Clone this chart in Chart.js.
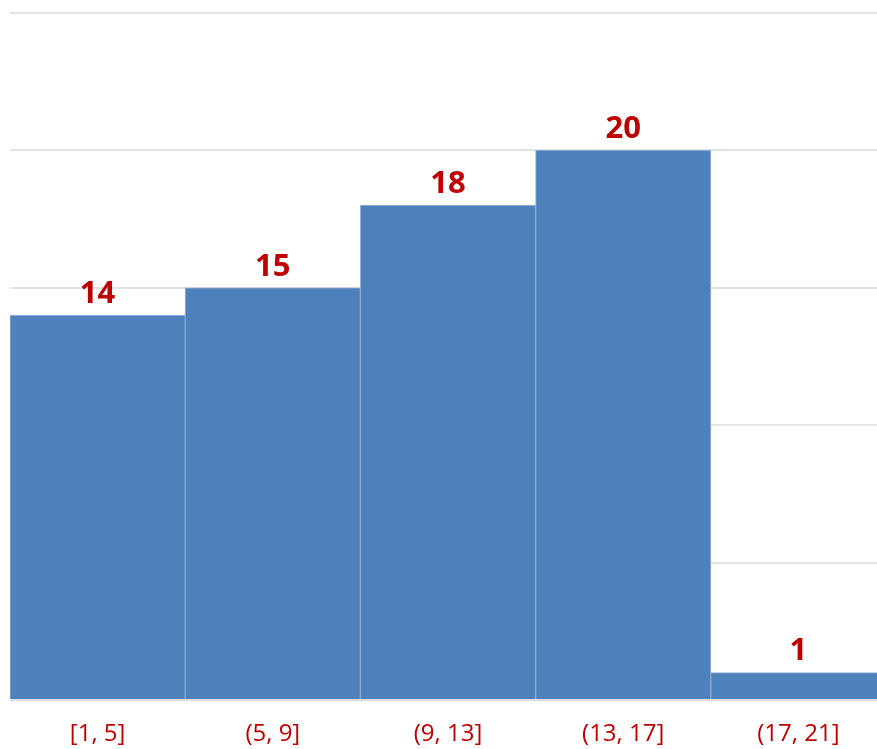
<!DOCTYPE html>
<html>
<head>
<meta charset="utf-8">
<script src="https://cdn.jsdelivr.net/npm/chart.js@4/dist/chart.umd.min.js"></script>
<style>
  html, body { margin: 0; padding: 0; background: #fff; overflow: hidden; }
  #wrap { position: absolute; left: 0; top: 0; width: 886px; height: 749px; }
</style>
</head>
<body>
<div id="wrap"><canvas id="hist_chart"></canvas></div>
<script>
const bins = ["[1, 5]", "(5, 9]", "(9, 13]", "(13, 17]", "(17, 21]"];
const counts = [14, 15, 18, 20, 1];
const y_max = 25;
const y_step = 5;

const label_red = "#C00000";
const font_family = "'Open Sans', 'Liberation Sans', sans-serif";

// draws the count above every bar, using the bar positions from the scales
const value_labels = {
  id: "value_labels",
  afterDatasetsDraw(chart) {
    const ctx = chart.ctx;
    const meta = chart.getDatasetMeta(0);
    ctx.save();
    ctx.fillStyle = label_red;
    ctx.font = "bold 31px " + font_family;
    ctx.textAlign = "center";
    ctx.textBaseline = "middle";
    meta.data.forEach(function(bar, i) {
      ctx.fillText(String(counts[i]), bar.x, bar.y - 21);
    });
    ctx.restore();
  }
};

new Chart("hist_chart", {
  type: "bar",
  data: {
    labels: bins,
    datasets: [{
      data: counts,
      backgroundColor: "#4F81BD",
      borderColor: "#8AA9D3",
      borderWidth: 1,
      barPercentage: 1,
      categoryPercentage: 1
    }]
  },
  options: {
    responsive: true,
    maintainAspectRatio: false,
    animation: false,
    layout: { padding: { left: 10, top: 13, right: 0, bottom: 0 } },
    plugins: { legend: { display: false }, tooltip: { enabled: false } },
    scales: {
      x: {
        grid: { display: false },
        border: { display: true, color: "#D9D9D9", width: 1 },
        ticks: {
          color: label_red,
          padding: 12,
          font: { family: font_family, size: 24 }
        },
        afterFit: function(scale) {
          scale.height = 49;
        }
      },
      y: {
        min: 0,
        max: y_max,
        ticks: { display: false, stepSize: y_step },
        grid: { color: "#E3E3E3", lineWidth: 2, drawTicks: false },
        border: { display: false }
      }
    }
  },
  plugins: [value_labels]
});
</script>
</body>
</html>
